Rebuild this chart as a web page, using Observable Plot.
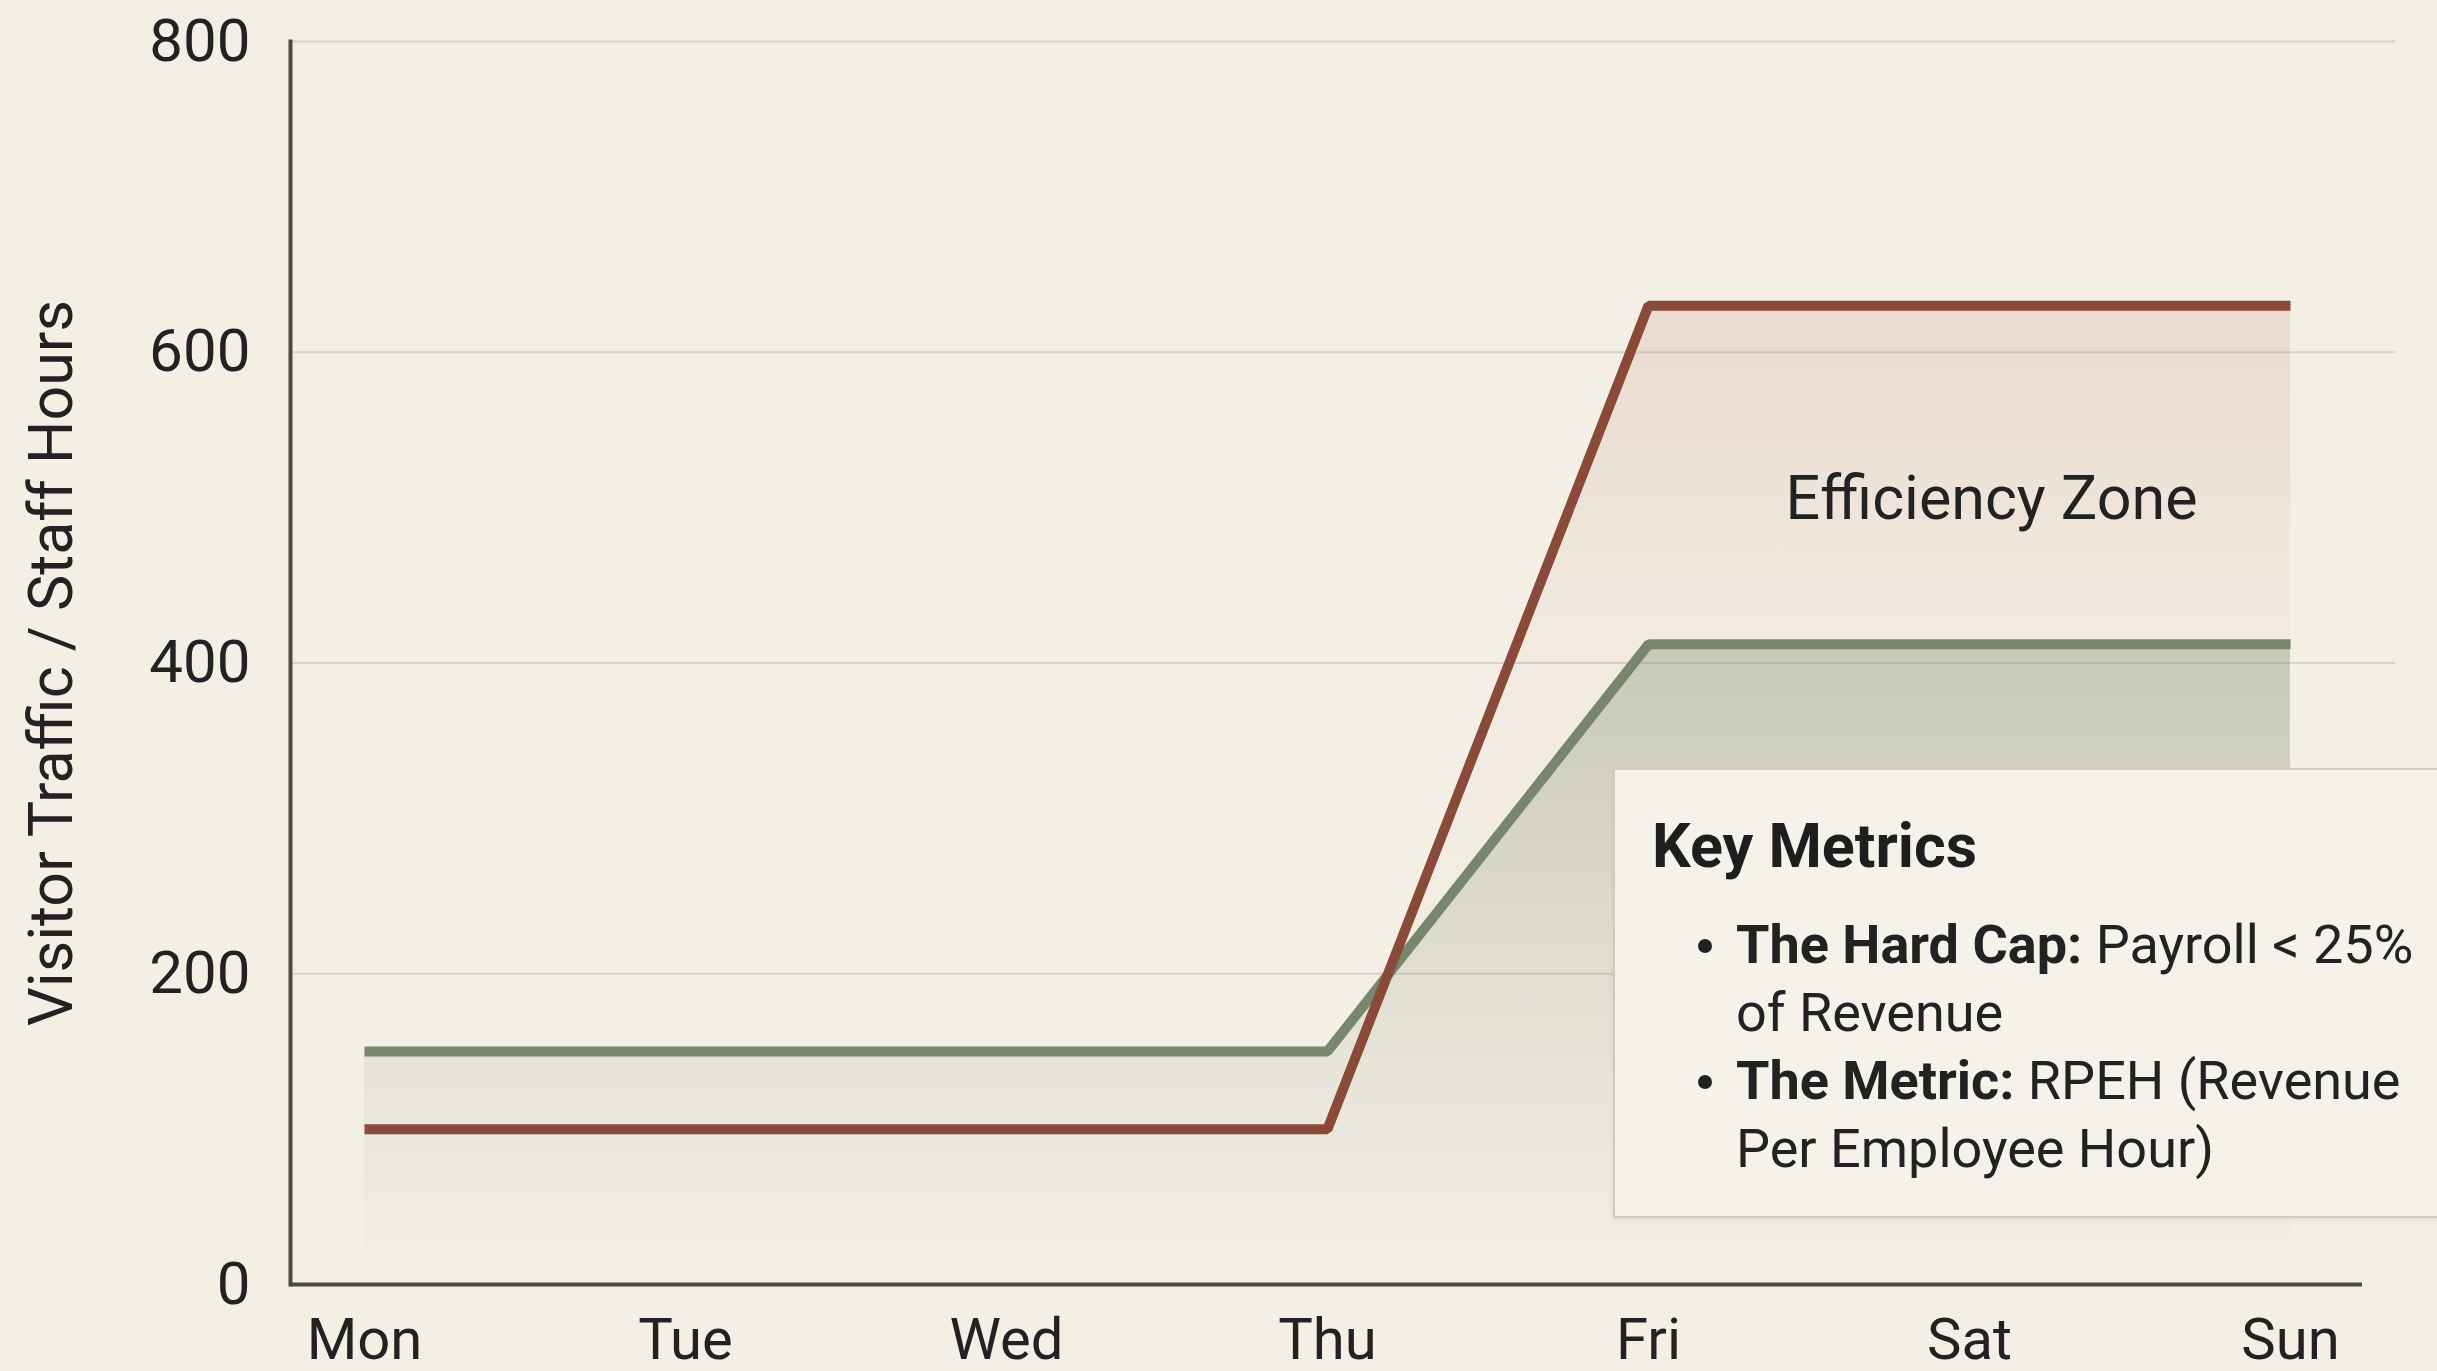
<!DOCTYPE html>
<html>
<head>
<meta charset="utf-8">
<script src="https://cdn.jsdelivr.net/npm/d3@7"></script>
<script src="https://cdn.jsdelivr.net/npm/@observablehq/plot@0.6"></script>
<style>
  html, body { margin: 0; padding: 0; background: #f3efe5; overflow: hidden; }
  #wrap { position: relative; width: 2437px; height: 1371px; }
  #box {
    position: absolute; left: 1613px; top: 768px; width: 900px; height: 446px;
    background: #f5f2ea; border: 2px solid #d0ccc2;
    box-shadow: 0 2px 5px rgba(0,0,0,0.06);
    font-family: Roboto, "Liberation Sans", sans-serif; color: #222;
  }
  #box .title { position: absolute; left: 37px; top: 46px; font-size: 61px; line-height: 61px; font-weight: 700; white-space: nowrap; color: #1e1e1e; }
  #box .list { position: absolute; left: 121px; top: 141px; font-size: 54px; line-height: 68px; white-space: nowrap; }
  #box .item { position: relative; }
  #box .item::before { content: ""; position: absolute; left: -38px; top: 28px; width: 14px; height: 14px; border-radius: 50%; background: #222; }
  #box b { font-weight: 700; }
</style>
</head>
<body>
<div id="wrap">
  <div id="chart"></div>
  <div id="box">
    <div class="title">Key Metrics</div>
    <div class="list">
      <div class="item"><b>The Hard Cap:</b> Payroll &lt; 25%<br>of Revenue</div>
      <div class="item"><b>The Metric:</b> RPEH (Revenue<br>Per Employee Hour)</div>
    </div>
  </div>
</div>
<script>
const days = ["Mon", "Tue", "Wed", "Thu", "Fri", "Sat", "Sun"];
const visitorTraffic = [100, 100, 100, 100, 630, 630, 630];
const staffHours = [150, 150, 150, 150, 412, 412, 412];
const yTicks = [0, 200, 400, 600, 800];
const zoneLabel = [{day: "Sat", value: 505, label: "Efficiency Zone"}];

const data = days.map((d, i) => ({day: d, traffic: visitorTraffic[i], staff: staffHours[i]}));

const gradientDefs = () => {
  const ns = "http://www.w3.org/2000/svg";
  const defs = document.createElementNS(ns, "defs");
  defs.innerHTML = `
    <linearGradient id="gradTraffic" x1="0" y1="0" x2="0" y2="1">
      <stop offset="0" stop-color="#b05a4e" stop-opacity="0.14"/>
      <stop offset="0.35" stop-color="#b05a4e" stop-opacity="0.03"/>
      <stop offset="1" stop-color="#b05a4e" stop-opacity="0"/>
    </linearGradient>
    <linearGradient id="gradStaff" x1="0" y1="0" x2="0" y2="1">
      <stop offset="0" stop-color="#77866c" stop-opacity="0.34"/>
      <stop offset="0.55" stop-color="#77866c" stop-opacity="0.13"/>
      <stop offset="1" stop-color="#77866c" stop-opacity="0"/>
    </linearGradient>`;
  return defs;
};

const chart = Plot.plot({
  width: 2437,
  height: 1371,
  marginLeft: 290,
  marginRight: 42,
  marginTop: 41,
  marginBottom: 87,
  style: {background: "transparent", fontFamily: "Roboto, 'Liberation Sans', sans-serif", fontSize: "58px", color: "#222", overflow: "visible"},
  x: {type: "point", domain: days, padding: 0, insetLeft: 73, insetRight: 105},
  y: {domain: [0, 800]},
  marks: [
    gradientDefs,
    Plot.ruleY(yTicks.filter(v => v > 0), {stroke: "#d6d3c9", strokeWidth: 2}),
    Plot.areaY(data, {x: "day", y: "traffic", fill: "url(#gradTraffic)"}),
    Plot.areaY(data, {x: "day", y: "staff", fill: "url(#gradStaff)"}),
    Plot.lineY(data, {x: "day", y: "staff", stroke: "#77866c", strokeWidth: 10, strokeLinejoin: "miter", strokeLinecap: "butt"}),
    Plot.lineY(data, {x: "day", y: "traffic", stroke: "#8a4a3a", strokeWidth: 10, strokeLinejoin: "miter", strokeLinecap: "butt"}),
    Plot.text(zoneLabel, {x: "day", y: "value", text: "label", dx: 22, fontSize: 61, fill: "#222"}),
    Plot.ruleY([0], {stroke: "#4a4a44", strokeWidth: 4, insetRight: 33}),
    Plot.frame({anchor: "left", stroke: "#4a4a44", strokeWidth: 4}),
    Plot.axisY({ticks: yTicks, tickFormat: () => "", tickSize: 0, tickPadding: 40, label: "Visitor Traffic / Staff Hours", labelAnchor: "center", labelOffset: 262, labelArrow: false, fontSize: 61, fill: "#222"}),
    Plot.axisY({ticks: yTicks, tickSize: 0, tickPadding: 40, label: null, fontSize: 60, fill: "#222"}),
    Plot.axisX({tickSize: 0, tickPadding: 33, label: null, fontSize: 58, fill: "#222"})
  ]
});
document.getElementById("chart").appendChild(chart);
</script>
</body>
</html>
